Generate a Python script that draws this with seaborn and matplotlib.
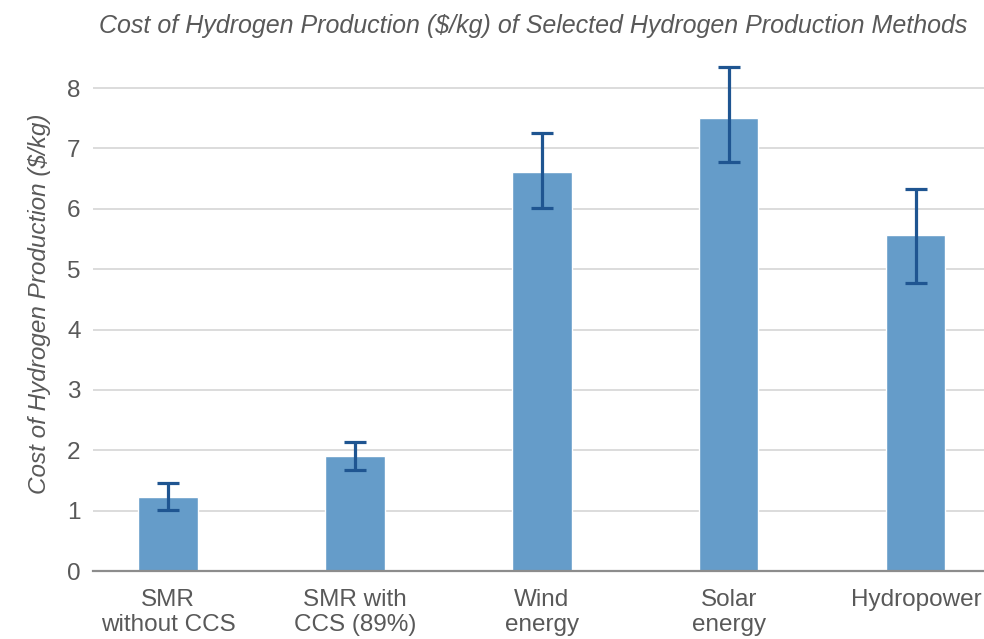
import matplotlib
matplotlib.use("Agg")
import matplotlib.pyplot as plt
import seaborn as sns
import numpy as np
import pandas as pd
from matplotlib import font_manager as fm

categories = ["SMR\nwithout CCS", "SMR with\nCCS (89%)", "Wind\nenergy", "Solar\nenergy", "Hydropower"]
costs = [1.23, 1.90, 6.61, 7.50, 5.56]
err_low = [1.01, 1.67, 6.01, 6.77, 4.77]
err_high = [1.46, 2.13, 7.26, 8.35, 6.32]
yticks = [0, 1, 2, 3, 4, 5, 6, 7, 8]

title = "Cost of Hydrogen Production ($/kg) of Selected Hydrogen Production Methods"
ylabel = "Cost of Hydrogen Production ($/kg)"

names = {f.name for f in fm.fontManager.ttflist}
fam = [f for f in ["Liberation Sans Narrow", "Liberation Sans", "DejaVu Sans"] if f in names]

sns.set_theme(style="white")
plt.rcParams["font.family"] = fam

df = pd.DataFrame({"method": categories, "cost": costs})

fig = plt.figure(figsize=(9.84, 6.39), dpi=100)
ax = fig.add_axes([93/984, 68/639, (984-93)/984, 0.8125])

sns.barplot(data=df, x="method", y="cost", color="#659cc9", saturation=1,
            width=0.316, ax=ax, zorder=2)

xs = np.arange(len(categories))
lo = np.array(costs) - np.array(err_low)
hi = np.array(err_high) - np.array(costs)
ax.errorbar(xs, costs, yerr=[lo, hi], fmt="none", ecolor="#1f5591",
            elinewidth=2.3, capsize=8, capthick=2.3, zorder=3)

ax.set_xlim(-0.401, 4.364)
ax.set_ylim(0, 8.6)
ax.set_yticks(yticks)
ax.yaxis.grid(True, color="#d9d9d9", linewidth=1.3, zorder=0)
ax.set_axisbelow(True)
for s in ["top", "right", "left"]:
    ax.spines[s].set_visible(False)
ax.spines["bottom"].set_color("#8c8c8c")
ax.spines["bottom"].set_linewidth(1.6)
ax.spines["bottom"].set_zorder(4)

ax.tick_params(axis="both", length=0, labelsize=17.5, labelcolor="#595959")
ax.tick_params(axis="y", pad=9)
ax.tick_params(axis="x", pad=13)
for lbl in ax.get_xticklabels():
    lbl.set_linespacing(1.2)

ax.set_xlabel("")
ax.set_ylabel(ylabel, fontsize=17.5, color="#595959", style="italic")
ax.yaxis.set_label_coords(-0.047, 0.515)
fig.text(0.542, 0.960, title, ha="center", va="center", fontsize=18,
         color="#595959", style="italic")

fig.savefig("out.png", dpi=100)
